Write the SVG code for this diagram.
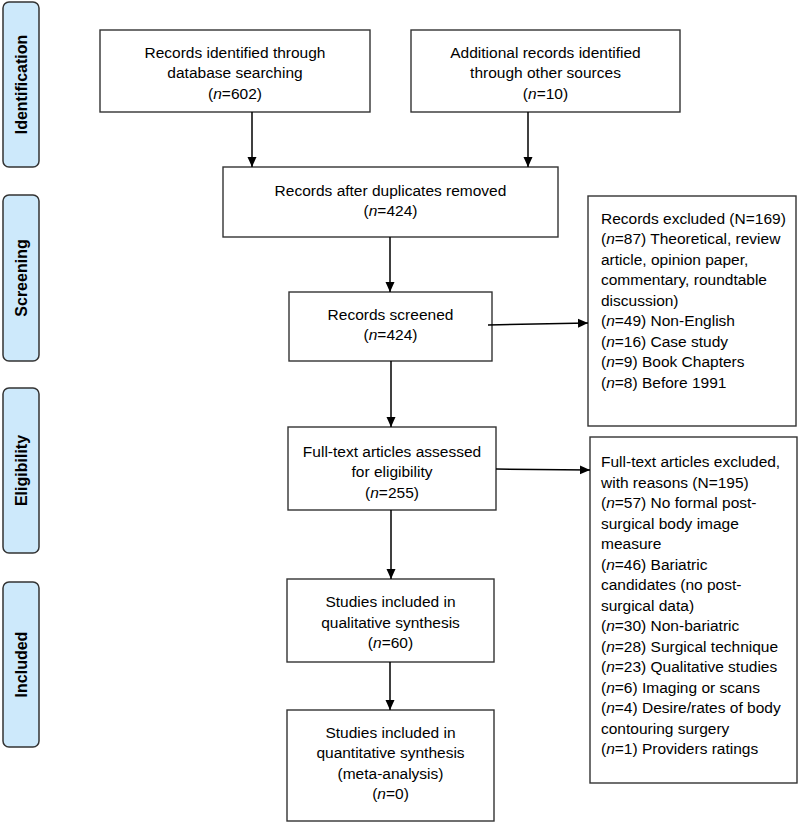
<svg xmlns="http://www.w3.org/2000/svg" width="800" height="824" viewBox="0 0 800 824">
<defs>
<marker id="arr" viewBox="0 0 10 10" refX="10" refY="5" markerWidth="10" markerHeight="10" markerUnits="userSpaceOnUse" orient="auto">
<path d="M0,0.5 L10,5 L0,9.5 z" fill="#000"/>
</marker>
</defs>
<style>
.phase rect{fill:#cde9fb;stroke:#333;stroke-width:1.5}
.phase text{font-family:"Liberation Sans",Arial,sans-serif;font-weight:bold;font-size:16px;fill:#000;text-anchor:middle}
.box rect{fill:#fff;stroke:#333;stroke-width:1.4}
.box text{font-family:"Liberation Sans",Arial,sans-serif;font-size:15.5px;fill:#000;text-anchor:middle}
.box text.l{text-anchor:start}
.i{font-style:italic}
#connectors line{stroke:#000;stroke-width:1.5;marker-end:url(#arr)}
</style>
<rect width="800" height="824" fill="#fff"/>

<g id="phase-identification" class="phase"><rect x="3" y="2" width="36" height="165" rx="6"/><text transform="translate(27,84.5) rotate(-90)">Identification</text></g>
<g id="phase-screening" class="phase"><rect x="3" y="195" width="36" height="166" rx="6"/><text transform="translate(27,278) rotate(-90)">Screening</text></g>
<g id="phase-eligibility" class="phase"><rect x="3" y="388" width="36" height="165" rx="6"/><text transform="translate(27,470.5) rotate(-90)">Eligibility</text></g>
<g id="phase-included" class="phase"><rect x="3" y="582" width="36" height="165" rx="6"/><text transform="translate(27,664.5) rotate(-90)">Included</text></g>

<g id="box-database" class="box"><rect x="100" y="30" width="270" height="82"/>
<text x="235" y="57.5">Records identified through</text>
<text x="235" y="78">database searching</text>
<text x="235" y="98.5">(<tspan class="i">n</tspan>=602)</text></g>

<g id="box-other" class="box"><rect x="411" y="30" width="269" height="82"/>
<text x="545.5" y="57.5">Additional records identified</text>
<text x="545.5" y="78">through other sources</text>
<text x="545.5" y="98.5">(<tspan class="i">n</tspan>=10)</text></g>

<g id="box-duplicates" class="box"><rect x="223" y="167" width="335" height="70"/>
<text x="390.5" y="195.5">Records after duplicates removed</text>
<text x="390.5" y="216">(<tspan class="i">n</tspan>=424)</text></g>

<g id="box-screened" class="box"><rect x="289" y="292" width="203" height="69"/>
<text x="390.5" y="319.5">Records screened</text>
<text x="390.5" y="340">(<tspan class="i">n</tspan>=424)</text></g>

<g id="box-fulltext" class="box"><rect x="288" y="427" width="208" height="83"/>
<text x="392" y="456.5">Full-text articles assessed</text>
<text x="392" y="477">for eligibility</text>
<text x="392" y="497.5">(<tspan class="i">n</tspan>=255)</text></g>

<g id="box-qualitative" class="box"><rect x="287" y="579" width="207" height="83"/>
<text x="390.5" y="607">Studies included in</text>
<text x="390.5" y="627.5">qualitative synthesis</text>
<text x="390.5" y="648">(<tspan class="i">n</tspan>=60)</text></g>

<g id="box-quantitative" class="box"><rect x="287" y="710" width="207" height="111"/>
<text x="390.5" y="737.5">Studies included in</text>
<text x="390.5" y="758">quantitative synthesis</text>
<text x="390.5" y="778.5">(meta-analysis)</text>
<text x="390.5" y="799">(<tspan class="i">n</tspan>=0)</text></g>

<g id="box-excluded" class="box"><rect x="588" y="196" width="208" height="230"/>
<text class="l" x="601" y="223.5">Records excluded (N=169)</text>
<text class="l" x="601" y="244">(<tspan class="i">n</tspan>=87) Theoretical, review</text>
<text class="l" x="601" y="264.5">article, opinion paper,</text>
<text class="l" x="601" y="285">commentary, roundtable</text>
<text class="l" x="601" y="305.5">discussion)</text>
<text class="l" x="601" y="326">(<tspan class="i">n</tspan>=49) Non-English</text>
<text class="l" x="601" y="346.5">(<tspan class="i">n</tspan>=16) Case study</text>
<text class="l" x="601" y="367">(<tspan class="i">n</tspan>=9) Book Chapters</text>
<text class="l" x="601" y="387.5">(<tspan class="i">n</tspan>=8) Before 1991</text></g>

<g id="box-fulltext-excluded" class="box"><rect x="590" y="437" width="207" height="346"/>
<text class="l" x="601" y="467">Full-text articles excluded,</text>
<text class="l" x="601" y="487.5">with reasons (N=195)</text>
<text class="l" x="601" y="508">(<tspan class="i">n</tspan>=57) No formal post-</text>
<text class="l" x="601" y="528.5">surgical body image</text>
<text class="l" x="601" y="549">measure</text>
<text class="l" x="601" y="569.5">(<tspan class="i">n</tspan>=46) Bariatric</text>
<text class="l" x="601" y="590">candidates (no post-</text>
<text class="l" x="601" y="610.5">surgical data)</text>
<text class="l" x="601" y="631">(<tspan class="i">n</tspan>=30) Non-bariatric</text>
<text class="l" x="601" y="651.5">(<tspan class="i">n</tspan>=28) Surgical technique</text>
<text class="l" x="601" y="672">(<tspan class="i">n</tspan>=23) Qualitative studies</text>
<text class="l" x="601" y="692.5">(<tspan class="i">n</tspan>=6) Imaging or scans</text>
<text class="l" x="601" y="713">(<tspan class="i">n</tspan>=4) Desire/rates of body</text>
<text class="l" x="601" y="733.5">contouring surgery</text>
<text class="l" x="601" y="754">(<tspan class="i">n</tspan>=1) Providers ratings</text></g>

<g id="connectors">
<line x1="252" y1="112" x2="252" y2="167"/>
<line x1="528" y1="112" x2="528" y2="167"/>
<line x1="390" y1="237" x2="390" y2="292"/>
<line x1="488" y1="325" x2="588" y2="323"/>
<line x1="391" y1="361" x2="391" y2="427"/>
<line x1="496" y1="469" x2="590" y2="470"/>
<line x1="391" y1="510" x2="391" y2="579"/>
<line x1="390" y1="662" x2="390" y2="710"/>
</g>
</svg>
